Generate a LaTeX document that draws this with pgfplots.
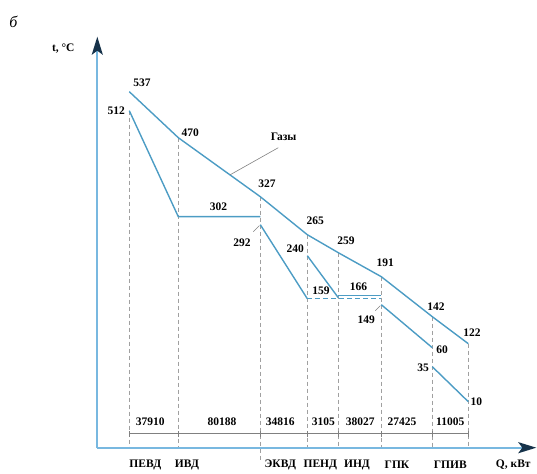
\documentclass[border=0pt]{standalone}
\usepackage{pgfplots}
\pgfplotsset{compat=1.18}
\usepackage{fontspec}
\setmainfont{Liberation Serif}
\usetikzlibrary{arrows.meta}
\definecolor{lineblue}{HTML}{4C9CC4}
\definecolor{axisblue}{HTML}{78B8E0}
\definecolor{arrowdark}{HTML}{16324A}
\definecolor{dashgray}{HTML}{A0A0A0}
\begin{document}
\begin{tikzpicture}
\begin{axis}[
  scale only axis, width=438pt, height=410pt,
  xmin=0, xmax=438, ymin=0, ymax=410,
  axis lines=none,
  xtick=\empty, ytick=\empty,
  clip=false,
  nodes={font=\fontsize{11.5}{12}\selectfont\bfseries, inner sep=1pt},
]
% bounding box corners
\coordinate (bl) at (axis cs:-97.3,-25.3);
\coordinate (tr) at (axis cs:439.7,447.7);
% dashed verticals
\addplot[dashgray, line width=1pt, dash pattern=on 4pt off 3pt] coordinates {(32,337) (32,0)};
\addplot[dashgray, line width=1pt, dash pattern=on 4pt off 3pt] coordinates {(81,310) (81,0)};
\addplot[dashgray, line width=1pt, dash pattern=on 4pt off 3pt] coordinates {(163,251) (163,-14)};
\addplot[dashgray, line width=1pt, dash pattern=on 4pt off 3pt] coordinates {(210,213) (210,0)};
\addplot[dashgray, line width=1pt, dash pattern=on 4pt off 3pt] coordinates {(241,195) (241,0)};
\addplot[dashgray, line width=1pt, dash pattern=on 4pt off 3pt] coordinates {(284,171) (284,0)};
\addplot[dashgray, line width=1pt, dash pattern=on 4pt off 3pt] coordinates {(335,131) (335,0)};
\addplot[dashgray, line width=1pt, dash pattern=on 4pt off 3pt] coordinates {(371,104) (371,0)};
% axes
\addplot[axisblue, line width=2pt, -{Stealth[length=18pt 0,width=11pt 0,inset=4pt,color=arrowdark,fill=arrowdark]}] coordinates {(0,0) (439,0)};
\addplot[axisblue, line width=2pt, -{Stealth[length=18pt 0,width=11pt 0,inset=4pt,color=arrowdark,fill=arrowdark]}] coordinates {(0,0) (0,411)};
% dimension line
\addplot[gray, line width=0.6pt] coordinates {(32,14) (371,14)};
\foreach \xx in {32,81,163,210,241,284,335,371}{
  \edef\temp{\noexpand\addplot[gray, line width=0.6pt] coordinates {(\xx,11) (\xx,17)};}
  \temp
}
% gas line
\addplot[lineblue, line width=1.4pt] coordinates {(32,356) (81,310) (163,251) (210,213) (241,195) (284,171) (335,131) (371,104)};
% working medium lines
\addplot[lineblue, line width=1.4pt] coordinates {(32,337) (81,231) (163,231)};
\addplot[lineblue, line width=1.4pt] coordinates {(163,223) (210,149)};
\addplot[lineblue, line width=1.2pt, dash pattern=on 5pt off 3pt] coordinates {(210,149) (284,149)};
\addplot[lineblue, line width=1.4pt] coordinates {(210,192) (241,150)};
\addplot[lineblue, line width=1.4pt] coordinates {(241,152) (284,152)};
\addplot[lineblue, line width=1.4pt] coordinates {(284,143) (335,100)};
\addplot[lineblue, line width=1.4pt] coordinates {(335,81) (371,46)};
% leaders
\addplot[gray, line width=0.6pt] coordinates {(133,273) (181,300)};
\addplot[gray, line width=0.6pt] coordinates {(156,216) (162,222)};
\addplot[gray, line width=0.6pt] coordinates {(278,137) (283,142)};
% value labels
\node at (axis cs:44.7,365) {537};
\node at (axis cs:19,337.3) {512};
\node at (axis cs:93,315.3) {470};
\node at (axis cs:169.7,264) {327};
\node at (axis cs:121.3,241.3) {302};
\node at (axis cs:144.7,205.3) {292};
\node at (axis cs:186.3,311.3) {Газы};
\node at (axis cs:218,227.3) {265};
\node at (axis cs:198,199) {240};
\node at (axis cs:248.7,207.3) {259};
\node at (axis cs:223.7,157.3) {159};
\node at (axis cs:261.3,160.7) {166};
\node at (axis cs:288,184.7) {191};
\node at (axis cs:269,128) {149};
\node at (axis cs:338.7,141.3) {142};
\node at (axis cs:344.7,98) {60};
\node at (axis cs:325.7,79.7) {35};
\node at (axis cs:374.7,115.3) {122};
\node at (axis cs:379,46.3) {10};
% Q values
\node at (axis cs:53,26.3) {37910};
\node at (axis cs:124.7,26.3) {80188};
\node at (axis cs:183,26.3) {34816};
\node at (axis cs:226,26.3) {3105};
\node at (axis cs:263,26.3) {38027};
\node at (axis cs:304.7,26.3) {27425};
\node at (axis cs:353,26.3) {11005};
% section names
\node at (axis cs:48,-17) {ПЕВД};
\node at (axis cs:89.7,-17) {ИВД};
\node at (axis cs:183,-17) {ЭКВД};
\node at (axis cs:223,-17) {ПЕНД};
\node at (axis cs:259.7,-17) {ИНД};
\node at (axis cs:299.7,-17) {ГПК};
\node at (axis cs:353,-17) {ГПИВ};
\node at (axis cs:416,-17) {Q, кВт};
\node at (axis cs:-34,399) {t, °C};
\node[font=\fontsize{16}{17}\selectfont\itshape] at (axis cs:-84,426) {б};
\end{axis}
\pgfresetboundingbox
\useasboundingbox (bl) rectangle (tr);
\end{tikzpicture}
\end{document}
